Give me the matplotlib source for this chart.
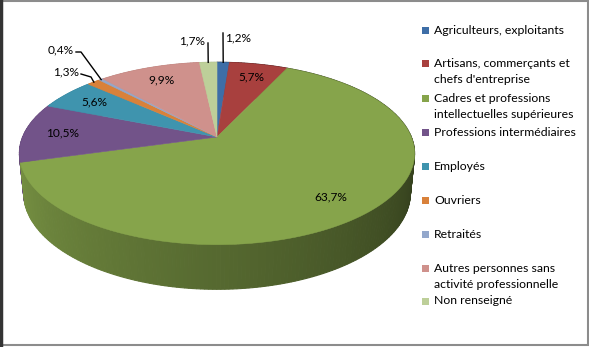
import numpy as np
import matplotlib
matplotlib.use('Agg')
from matplotlib import pyplot as plt
from matplotlib.patches import Polygon, Rectangle

plt.rcParams['font.family'] = ['Lato', 'DejaVu Sans']

#---------------
# Data
#---------------
categories = ['Agriculteurs, exploitants',
              'Artisans, commerçants et\nchefs d\'entreprise',
              'Cadres et professions\nintellectuelles supérieures',
              'Professions intermédiaires',
              'Employés',
              'Ouvriers',
              'Retraités',
              'Autres personnes sans\nactivité professionnelle',
              'Non renseigné']
values = [1.2, 5.7, 63.7, 10.5, 5.6, 1.3, 0.4, 9.9, 1.7]
colors = ['#3E6EA7', '#A8403E', '#86A44B', '#725389', '#3F94AE',
          '#D9813A', '#93A7CB', '#CF918C', '#BDCF99']

#---------------
# 3D pie projection (perspective, like Excel)
#---------------
elev = np.radians(27)
c, s = np.cos(elev), np.sin(elev)
D = 4.94       # camera distance
K = 960        # scale to pixels
cx, cy = 217, 137
h = 0.23       # pie thickness

def proj(theta, r=1.0, z=0.0):
    t = np.radians(theta)
    X = r*np.sin(t)
    Y = r*np.cos(t)
    vy = Y + D*c
    vz = z - D*s
    depth = vy*c - vz*s
    up = vy*s + vz*c
    return cx + K*X/depth, cy - K*up/depth, depth

def shade(hexcol, f):
    rgb = np.array(matplotlib.colors.to_rgb(hexcol))
    return tuple(np.clip(rgb*f, 0, 1))

def side_factor(theta):
    return np.clip(0.38 + 0.52*(theta - 100)/160, 0.38, 0.9)

fig = plt.figure(figsize=(5.89, 3.47), dpi=100)
ax = fig.add_axes([0, 0, 1, 1])
ax.set_xlim(0, 589)
ax.set_ylim(347, 0)
ax.axis('off')

bounds = np.concatenate([[0], np.cumsum(values)/sum(values)*360])

# side walls
facets = []
for i in range(len(values)):
    a0, a1 = bounds[i], bounds[i+1]
    n = max(2, int((a1 - a0)/1.0))
    th = np.linspace(a0, a1, n+1)
    for k in range(n):
        t0, t1 = th[k], th[k+1]
        p1 = proj(t0); p2 = proj(t1)
        p3 = proj(t1, z=-h); p4 = proj(t0, z=-h)
        depth = (p1[2] + p2[2])/2
        col = shade(colors[i], side_factor((t0 + t1)/2))
        facets.append((depth, [p1[:2], p2[:2], p3[:2], p4[:2]], col))
facets.sort(key=lambda f: -f[0])
for depth, pts, col in facets:
    ax.add_patch(Polygon(pts, closed=True, facecolor=col, edgecolor=col, lw=0.8))

# top faces
for i in range(len(values)):
    a0, a1 = bounds[i], bounds[i+1]
    th = np.linspace(a0, a1, max(3, int(a1 - a0)*2))
    pts = [proj(0, r=0)[:2]] + [proj(t)[:2] for t in th]
    ax.add_patch(Polygon(pts, closed=True, facecolor=colors[i],
                         edgecolor=colors[i], lw=0.4))

#---------------
# Data labels
#---------------
labels = [('%.1f%%' % v).replace('.', ',') for v in values]
mids = (bounds[:-1] + bounds[1:])/2
fs = 8.6

# outer labels with leader lines (index: text pos, ha, line knee)
outer = {0: ((225, 38), 'left', (223, 33)),
         8: ((205, 41), 'right', (208, 43)),
         6: ((74, 50), 'right', (81, 52)),
         5: ((79, 72), 'right', (91, 77))}

for i, lab in enumerate(labels):
    if i in outer:
        (tx, ty), ha, knee = outer[i]
        ax.text(tx, ty, lab, fontsize=fs, ha=ha, va='center', color='black')
        ex, ey, _ = proj(mids[i])
        if i in (6, 5):
            ax.plot([tx + 2, knee[0], ex], [ty + 2, knee[1], ey], color='black', lw=1)
        else:
            ax.plot([knee[0], ex], [knee[1], ey], color='black', lw=1)
    else:
        x, y, _ = proj(mids[i], r=0.8)
        ax.text(x, y, lab, fontsize=fs, ha='center', va='center', color='black')

#---------------
# Legend
#---------------
leg_y = [30, 63, 98, 132, 166, 200, 234, 268, 301]
for i, cat in enumerate(categories):
    y = leg_y[i]
    ax.add_patch(Rectangle((421.5, y - 3.5), 7, 7, facecolor=colors[i], edgecolor='none'))
    for j, line in enumerate(cat.split('\n')):
        ax.text(434, y + j*16.5, line, fontsize=8.8, ha='left', va='center', color='black')

# chart frame
ax.add_patch(Rectangle((1, 1), 587, 344, fill=False, edgecolor='#8c8c8c', lw=1.5))
ax.plot([1.2, 1.2], [0, 347], color='#333333', lw=2.5)

fig.savefig('out.png', dpi=100)
